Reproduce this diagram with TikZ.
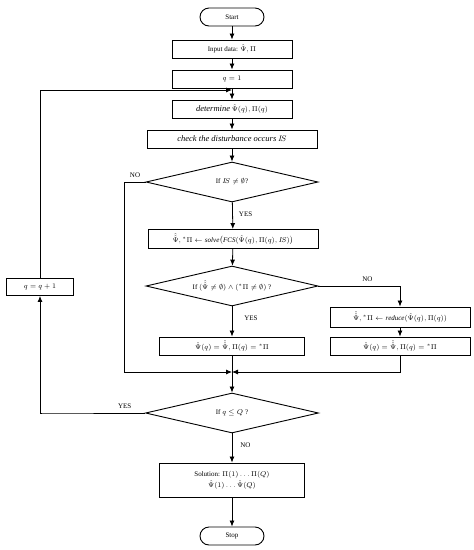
\documentclass[tikz,border=0pt]{standalone}
\usepackage{amsmath,amssymb}
\usepackage{fontspec}
\setmainfont{Liberation Serif}
\usetikzlibrary{arrows.meta,shapes.geometric,positioning}
\tikzset{
  box/.style={draw, line width=0.9pt, minimum height=18pt, inner sep=1pt, font=\fontsize{7}{8}\selectfont},
  term/.style={draw, line width=0.9pt, rounded corners=9pt, minimum width=64pt, minimum height=18pt, inner sep=1pt, font=\fontsize{7}{8}\selectfont},
  dec/.style={diamond, aspect=4.3, draw, line width=0.9pt, minimum width=172pt, minimum height=40pt, inner sep=0pt, font=\fontsize{7}{8}\selectfont},
  arr/.style={-{Latex[length=6pt,width=5pt]}, line width=0.8pt},
  lbl/.style={font=\fontsize{7}{8}\selectfont, inner sep=0pt}
}
\newcommand{\Ph}{\hat{\Psi}}
\newcommand{\Ps}{\hat{\hat{\Psi}}}
\newcommand{\Pis}{{}^{*}\Pi}
\newcommand{\itw}[1]{{\fontsize{8.5}{9}\selectfont\textit{#1}}}
\begin{document}
\begin{tikzpicture}[x=1pt,y=-1pt]
\useasboundingbox (0,0) rectangle (474,550);
\node[term] (start) at (232,17) {Start};
\node[box, minimum width=120pt] (in) at (232,49) {Input data: $\Ph,\Pi$};
\node[box, minimum width=120pt] (q1) at (232,79) {$q=1$};
\node[box, minimum width=120pt] (det) at (232,109) {\itw{determine} $\Ph(q),\Pi(q)$};
\node[box, minimum width=170pt] (chk) at (232,139) {\itw{check the disturbance occurs} {\fontsize{8}{9}\selectfont$I\!S$}};
\node[dec] (d1) at (232,182) {If $I\!S\neq\emptyset$?};
\node[box, minimum width=170pt, minimum height=19pt] (solve) at (233,239) {$\Ps,\Pis\leftarrow \mathit{solve}\bigl(\mathit{FCS}(\Ph(q),\Pi(q),I\!S)\bigr)$};
\node[dec] (d2) at (232,286) {If $(\Ps\neq\emptyset)\wedge(\Pis\neq\emptyset)$ ?};
\node[box, minimum width=140pt, minimum height=20pt] (red) at (400,317) {$\Ps,\Pis\leftarrow \mathit{reduce}(\Ph(q),\Pi(q))$};
\node[box, minimum width=140pt] (red2) at (400,346) {$\Ph(q)=\Ps,\Pi(q)=\Pis$};
\node[box, minimum width=145pt] (set) at (232,346) {$\Ph(q)=\Ps,\Pi(q)=\Pis$};
\coordinate (j) at (232,372);
\node[dec, minimum width=173pt] (d3) at (232,413) {If $q\leq Q$ ?};
\node[box, minimum width=145pt, minimum height=34pt, align=center] (sol) at (232,480) {Solution: $\Pi(1)\ldots\Pi(Q)$\\[2pt] $\Ph(1)\ldots\Ph(Q)$};
\node[term] (stop) at (232,536) {Stop};
\node[box, minimum width=67pt, minimum height=17pt] (inc) at (40,287) {$q=q+1$};
\coordinate (lp) at (232,90);

\draw[arr] (start) -- (in);
\draw[arr] (in) -- (q1);
\draw[arr] (q1) -- (det);
\draw[arr] (det) -- (chk);
\draw[arr] (chk) -- (d1);
\draw[arr] (d1) -- node[lbl, right=6pt, pos=0.45] {YES} (solve);
\draw[arr] (solve) -- (d2);
\draw[arr] (d2) -- node[lbl, right=12pt, pos=0.4] {YES} (set);
\draw[arr] (d2.east) -| node[lbl, above=4pt, pos=0.3] {NO} (red.north);
\draw[arr] (red) -- (red2);
\draw[arr] (red2.south) |- (j);
\draw[arr] (d1.west) -- node[lbl, above=4pt, pos=0.5] {NO} ++(-21,0) |- (j);
\draw[arr] (set) -- (d3);
\draw[arr] (d3.west) -- node[lbl, above=4pt, pos=0.2] {YES} ++(-102,0) -| (inc.south);
\draw[arr] (d3) -- node[lbl, right=8pt, pos=0.4] {NO} (sol);
\draw[arr] (sol) -- (stop);
\draw[arr] (inc.north) |- (lp);
\end{tikzpicture}
\end{document}
